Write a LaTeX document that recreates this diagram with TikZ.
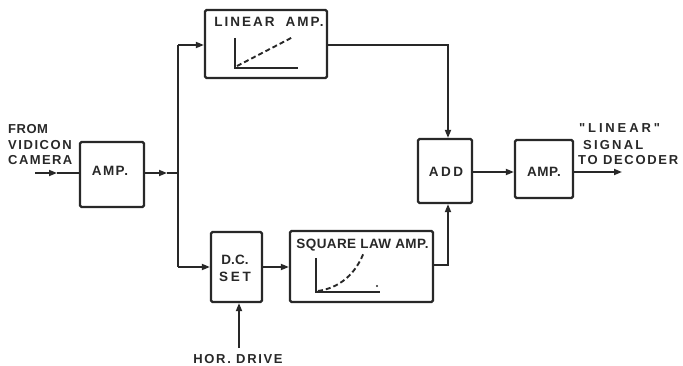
\documentclass[tikz,border=0pt]{standalone}
\usepackage{fontspec}
\setmainfont{Liberation Sans}[Ligatures=TeXOff]
\usetikzlibrary{arrows.meta,calc}
\definecolor{ink}{RGB}{40,40,40}
\begin{document}
\begin{tikzpicture}[x=1pt,y=-1pt,
  blk/.style={draw=ink,line width=2.2pt,rounded corners=1.5pt,inner sep=0pt},
  txt/.style={inner sep=0pt,text=ink,font=\fontsize{13.5}{13.5}\selectfont\bfseries\addfontfeature{LetterSpace=#1}},
  sidetxt/.style={inner sep=0pt,text=ink,anchor=base west,font=\fontsize{13}{13}\selectfont\bfseries\addfontfeature{LetterSpace=#1}},
  conn/.style={draw=ink,line width=1.7pt},
  tip/.style={-{Triangle[length=8pt,width=6pt]}},
  axis/.style={draw=ink,line width=2pt},
  curve/.style={draw=ink,line width=1.9pt,dash pattern=on 5pt off 3pt}]
\useasboundingbox (0,0) rectangle (683,366);

% blocks
\node[blk,minimum width=64pt,minimum height=65pt] (amp1) at (112,174.5) {};
\node[blk,minimum width=122pt,minimum height=68pt] (lin) at (266,44) {};
\node[blk,minimum width=51pt,minimum height=70pt] (dc) at (236.5,267) {};
\node[blk,minimum width=143pt,minimum height=71pt] (sq) at (361.5,266.5) {};
\node[blk,minimum width=54pt,minimum height=64pt] (add) at (445,171) {};
\node[blk,minimum width=58pt,minimum height=58pt] (amp2) at (544,169) {};

% block texts
\node[txt=10] (t1) at (110,171) {AMP.};
\node[txt=15] (t2) at (269,22) {LINEAR\hspace{5pt} AMP.};
\node[txt=1] (t3) at (235,260) {D.C.};
\node[txt=21] (t4) at (235,277) {SET};
\node[txt=3] (t5) at (362.5,245) {SQUARE LAW AMP.};
\node[txt=18] (t6) at (446,172) {ADD};
\node[txt=4] (t7) at (544,172) {AMP.};

% side texts
\node[sidetxt=4] (f1) at (8,134) {FROM};
\node[sidetxt=12] (f2) at (8,150) {VIDICON};
\node[sidetxt=11] (f3) at (8,165) {CAMERA};
\node[sidetxt=22] (r1) at (579,133) {"LINEAR"};
\node[sidetxt=17] (r2) at (583,150) {SIGNAL};
\node[sidetxt=13] (r3) at (578,165) {TO DECODER};
\node[sidetxt=13,anchor=base] (hd) at (238,363) {HOR. DRIVE};

% graphs
\draw[axis] (235,38) -- (235,68) -- (298,68);
\draw[curve] (237,66) -- (293,37);
\draw[axis] (316,258) -- (316,292) -- (380,292);
\draw[curve] (318,291) .. controls (345,287) and (358,268) .. (364,252);
\fill[ink] (377,286) circle (1.1pt);

% connectors
\coordinate (in) at (35,173);
\coordinate (inm) at (57,173);
\coordinate (am) at (167,173);
\coordinate (jn) at (178,173);
\coordinate (jt) at (178,45);
\coordinate (jb) at (178,267);
\coordinate (hin) at (239,348);
\coordinate (out) at (622,172);

\draw[conn,tip] (in) -- (inm);
\draw[conn] (inm) -- (amp1.west |- in);
\draw[conn,tip] (amp1.east |- in) -- (am);
\draw[conn] (am) -- (jn);
\draw[conn] (jt) -- (jb);
\draw[conn,tip] (jt) -- (lin.west |- jt);
\draw[conn,tip] (jb) -- (dc.west |- jb);
\draw[conn,tip] (lin.east |- jt) -| ($(add.north)+(3,0)$);
\draw[conn,tip] (dc.east |- jb) -- (sq.west |- jb);
\draw[conn,tip] (sq.east |- 0,265) -| ($(add.south)+(3,0)$);
\draw[conn,tip] (hin) -- (dc.south -| hin);
\draw[conn,tip] (add.east |- out) -- (amp2.west |- out);
\draw[conn,tip] (amp2.east |- out) -- (out);
\end{tikzpicture}
\end{document}
